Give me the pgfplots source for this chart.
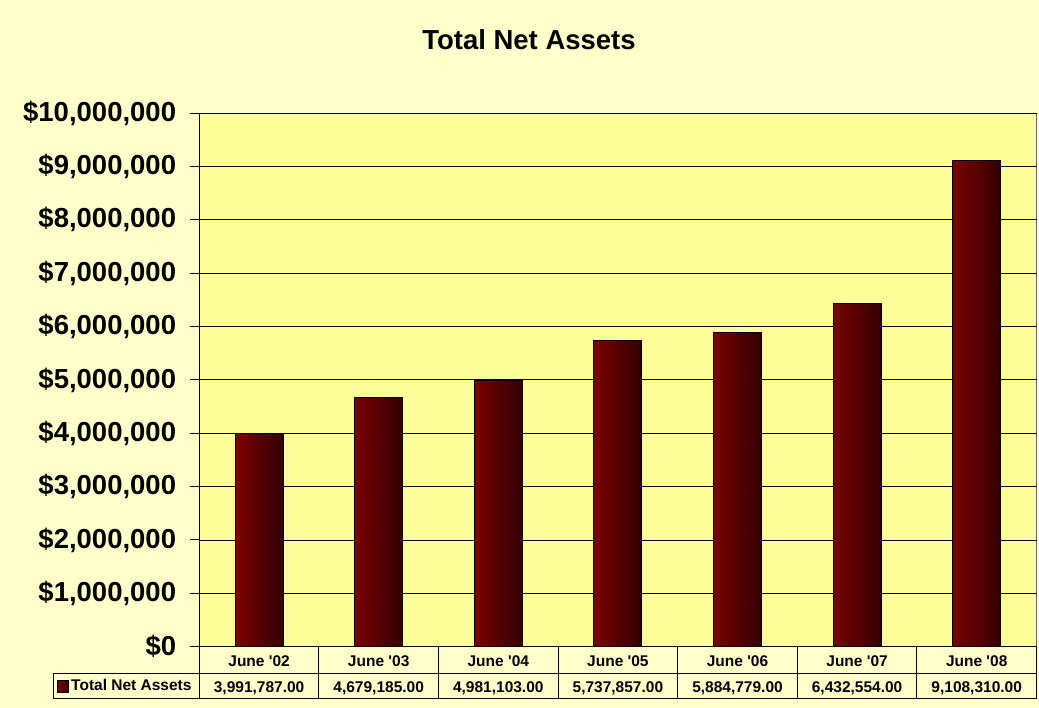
\documentclass[border=0pt]{standalone}
\usepackage{fontspec}
\setmainfont{Liberation Sans}
\usepackage{pgfplots}
\pgfplotsset{compat=1.18}
\definecolor{bgyellow}{HTML}{FFFFCC}
\definecolor{plotyellow}{HTML}{FFFF99}
\definecolor{barL}{HTML}{7A0000}
\definecolor{barR}{HTML}{330000}
\begin{document}
\begin{tikzpicture}[x=1pt,y=1pt]
\fill[bgyellow] (0,0) rectangle (1039,708);
\begin{axis}[
  at={(199.3pt,61.3pt)}, anchor=south west,
  scale only axis, width=837.2pt, height=533.5pt,
  xmin=-0.5, xmax=6.5, ymin=0, ymax=10000000,
  axis x line*=bottom, axis y line*=left,
  axis background/.style={fill=plotyellow, draw=gray!80!black, line width=1pt},
  axis line style={black, line width=1pt},
  ymajorgrids, major grid style={black, line width=0.9pt},
  ytick={0,1000000,...,10000000},
  yticklabels={{\$0},{\$1,000,000},{\$2,000,000},{\$3,000,000},{\$4,000,000},{\$5,000,000},{\$6,000,000},{\$7,000,000},{\$8,000,000},{\$9,000,000},{\$10,000,000}},
  scaled y ticks=false,
  tick align=outside,
  major tick length=9pt,
  ytick style={black, line width=1pt},
  yticklabel style={font=\fontsize{27.5}{30}\selectfont\bfseries, inner sep=0pt, xshift=-14pt},
  xtick={0,...,6},
  xtick style={draw=none},
  xticklabels={{June \textquotesingle02\\3,991,787.00},{June \textquotesingle03\\4,679,185.00},{June \textquotesingle04\\4,981,103.00},{June \textquotesingle05\\5,737,857.00},{June \textquotesingle06\\5,884,779.00},{June \textquotesingle07\\6,432,554.00},{June \textquotesingle08\\9,108,310.00}},
  xticklabel style={align=center, font=\fontsize{15.5}{25.8}\selectfont\bfseries, inner sep=0pt, anchor=north, yshift=0pt},
  title={Total Net Assets},
  title style={at={(axis description cs:0.3938,1.109)}, anchor=base, font=\fontsize{27.5}{30}\selectfont\bfseries},
  legend style={at={(axis description cs:-0.1697,-0.0737)}, anchor=west, draw=none, fill=none, font=\fontsize{15.5}{18}\selectfont\bfseries, inner sep=0pt, nodes={inner sep=2pt}},
  legend image code/.code={\draw[black, line width=0.8pt, left color=barL, right color=barR] (0pt,-6pt) rectangle (11pt,6pt);},
  clip=false,
]
\addplot[ybar, bar width=48pt, bar shift=0pt, draw=black, line width=1pt, left color=barL, right color=barR] coordinates {(0,3991787)};
\addlegendentry{Total Net Assets}
\addplot[ybar, bar width=48pt, bar shift=0pt, draw=black, line width=1pt, left color=barL, right color=barR, forget plot] coordinates {(1,4679185)};
\addplot[ybar, bar width=48pt, bar shift=0pt, draw=black, line width=1pt, left color=barL, right color=barR, forget plot] coordinates {(2,4981103)};
\addplot[ybar, bar width=48pt, bar shift=0pt, draw=black, line width=1pt, left color=barL, right color=barR, forget plot] coordinates {(3,5737857)};
\addplot[ybar, bar width=48pt, bar shift=0pt, draw=black, line width=1pt, left color=barL, right color=barR, forget plot] coordinates {(4,5884779)};
\addplot[ybar, bar width=48pt, bar shift=0pt, draw=black, line width=1pt, left color=barL, right color=barR, forget plot] coordinates {(5,6432554)};
\addplot[ybar, bar width=48pt, bar shift=0pt, draw=black, line width=1pt, left color=barL, right color=barR, forget plot] coordinates {(6,9108310)};
\end{axis}
% data table lines
\draw[black, line width=1pt] (53.3pt,34.7pt) -- (1036.5pt,34.7pt);
\draw[black, line width=1pt] (53.3pt,9.7pt) -- (1036.5pt,9.7pt);
\draw[black, line width=1pt] (53.3pt,34.7pt) -- (53.3pt,9.7pt);
\foreach \xx in {199.3,318.9,438.5,558.1,677.7,797.3,916.9,1036.5}
  \draw[black, line width=1pt] (\xx pt,61.3pt) -- (\xx pt,9.7pt);
\pgfresetboundingbox
\useasboundingbox (0,0) rectangle (1039,708);
\end{tikzpicture}
\end{document}
